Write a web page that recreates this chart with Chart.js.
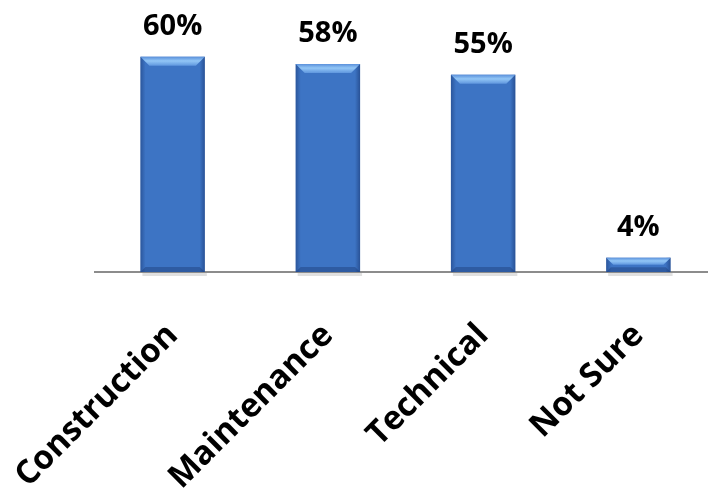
<!DOCTYPE html>
<html>
<head>
<meta charset="utf-8">
<script src="https://cdn.jsdelivr.net/npm/chart.js@4/dist/chart.umd.min.js"></script>
<style>
  html, body { margin: 0; padding: 0; background: #fff; overflow: hidden; }
  #wrap { width: 720px; height: 496px; }
</style>
</head>
<body>
<div id="wrap"><canvas id="myChart"></canvas></div>
<script>
// Chart data
const categories = ['Construction', 'Maintenance', 'Technical', 'Not Sure'];
const percentValues = [60, 58, 55, 4];
const yRange = [0, 70];

// Bevel / shading on top of each bar, plus the % labels above them
const barDecor = {
    id: 'barDecor',
    afterDatasetsDraw(chart) {
        const c = chart.ctx;
        const meta = chart.getDatasetMeta(0);
        meta.data.forEach((bar, i) => {
            const left = bar.x - bar.width / 2;
            const right = bar.x + bar.width / 2;
            const top = bar.y;
            const bottom = bar.base;
            const h = bottom - top;
            const b = Math.min(9, h / 2);

            c.save();
            // soft shadow under the bar
            c.fillStyle = 'rgba(0,0,0,0.12)';
            c.fillRect(left + 2, bottom + 1, bar.width, 3);

            // darker side edges
            const side = c.createLinearGradient(left, 0, right, 0);
            side.addColorStop(0, 'rgba(10,30,80,0.35)');
            side.addColorStop(0.08, 'rgba(10,30,80,0)');
            side.addColorStop(0.92, 'rgba(10,30,80,0)');
            side.addColorStop(1, 'rgba(10,30,80,0.4)');
            c.fillStyle = side;
            c.fillRect(left, top, bar.width, h);

            // top bevel
            const tg = c.createLinearGradient(0, top, 0, top + b);
            tg.addColorStop(0, '#5b91db');
            tg.addColorStop(0.45, '#92c6f6');
            tg.addColorStop(1, '#5f96de');
            c.fillStyle = tg;
            c.beginPath();
            c.moveTo(left, top);
            c.lineTo(right, top);
            c.lineTo(right - b, top + b);
            c.lineTo(left + b, top + b);
            c.closePath();
            c.fill();

            // bottom bevel
            const bb = Math.min(5, h / 3);
            c.fillStyle = 'rgba(20,45,100,0.35)';
            c.beginPath();
            c.moveTo(left, bottom);
            c.lineTo(right, bottom);
            c.lineTo(right - bb, bottom - bb);
            c.lineTo(left + bb, bottom - bb);
            c.closePath();
            c.fill();

            // value label
            c.fillStyle = '#000';
            c.font = 'bold 29px "Open Sans"';
            c.textAlign = 'center';
            c.textBaseline = 'alphabetic';
            c.fillText(percentValues[i] + '%', bar.x, top - 22);
            c.restore();
        });
    }
};

const data = {
    labels: categories,
    datasets: [{
        data: percentValues,
        backgroundColor: '#3d74c4',
        borderWidth: 0,
        barPercentage: 0.83,
        categoryPercentage: 0.5,
    }],
};

const config = {
    type: 'bar',
    data: data,
    options: {
        responsive: true,
        maintainAspectRatio: false,
        animation: false,
        layout: { padding: { top: 21, left: 95, right: 4, bottom: 0 } },
        plugins: {
            legend: { display: false },
            tooltip: { enabled: false },
        },
        scales: {
            x: {
                grid: { display: false },
                border: { display: true, color: '#8c8c8c', width: 2 },
                ticks: {
                    color: '#000',
                    font: { family: 'Open Sans', weight: 'bold', size: 33 },
                    minRotation: 45,
                    maxRotation: 45,
                    autoSkip: false,
                    padding: 36,
                },
                afterFit(scale) {
                    scale.height = 224;
                    scale.paddingLeft = 0;
                    scale.paddingRight = 0;
                },
            },
            y: {
                display: false,
                min: yRange[0],
                max: yRange[1],
            },
        },
    },
    plugins: [barDecor],
};

const ctx = document.getElementById('myChart').getContext('2d');
const myChart = new Chart(ctx, config);
</script>
</body>
</html>
